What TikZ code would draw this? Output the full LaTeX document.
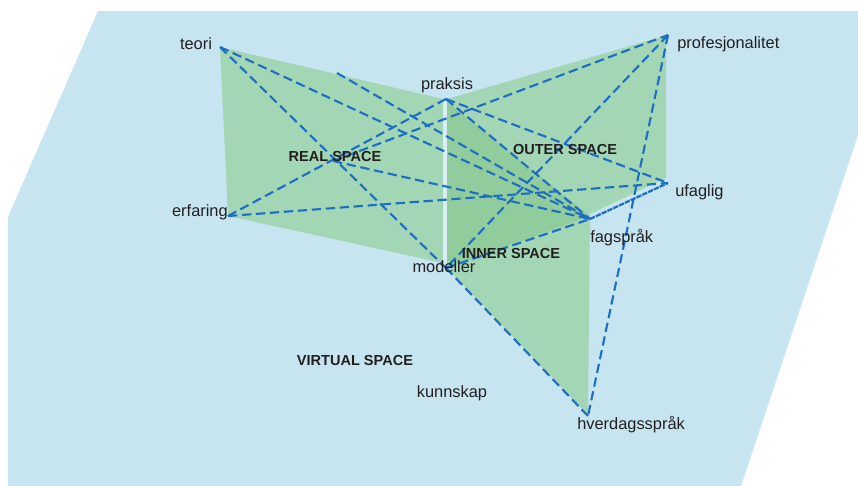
\documentclass[tikz,border=0pt]{standalone}
\usepackage{fontspec}
\setmainfont{Liberation Sans}
\usetikzlibrary{arrows,positioning}

\definecolor{virtualblue}{HTML}{C6E5F1}
\definecolor{planegreen}{HTML}{A3D6B5}
\definecolor{innergreen}{HTML}{91CC9C}
\definecolor{gapblue}{HTML}{D8EDF4}
\definecolor{linkblue}{HTML}{1E6FC3}
\definecolor{labelgrey}{HTML}{231F20}

\begin{document}
\begin{tikzpicture}[x=0.75pt, y=-0.75pt,
  link/.style={linkblue, line width=1.6pt, dash pattern=on 7pt off 3.5pt},
  rough/.style={linkblue, line width=1.7pt, dash pattern=on 4pt off 0.8pt},
  word/.style={text=labelgrey, inner sep=0pt, font=\fontsize{12.3}{14}\selectfont},
  space/.style={text=labelgrey, inner sep=0pt, font=\fontsize{10.9}{13}\selectfont\bfseries}]
\useasboundingbox (0,0) rectangle (858,486);
\fill [virtualblue] (98,11) -- (858,11) -- (858,135) -- (741,486) -- (8,486) -- (8,217) -- cycle;

\coordinate (teori) at (220,47);
\coordinate (praksis) at (446,99);
\coordinate (profesjonalitet) at (668,35);
\coordinate (erfaring) at (228,216);
\coordinate (ufaglig) at (668,183);
\coordinate (fagsprak) at (590,219);
\coordinate (modeller) at (446,268);
\coordinate (hverdagssprak) at (588,416);
\coordinate (realcross) at (333,161);
\coordinate (realedge) at (337,73);

\begin{scope}
  \fill [planegreen] (teori) -- (443,99) -- (443,263) -- (erfaring) -- cycle;
  \fill [planegreen] (447,99) -- (profesjonalitet) -- (666,35) -- (666,178) -- (590,214) -- (447,268) -- cycle;
  \fill [planegreen] (447,102) -- (590,216) -- (588,415) -- (447,268) -- cycle;
  \fill [innergreen] (447,102) -- (590,216) -- (447,268) -- cycle;
  \fill [gapblue] (443,99) rectangle (447,268);
\end{scope}

\draw [link] (teori) -- (modeller);
\draw [link] (teori) -- (fagsprak);
\draw [link] (realedge) -- (fagsprak);
\draw [link] (realcross) -- (fagsprak);
\draw [link] (realcross) -- (profesjonalitet);
\draw [link] (erfaring) -- (praksis);
\draw [link] (erfaring) -- (ufaglig);
\draw [link] (praksis) -- (ufaglig);
\draw [link] (praksis) -- (fagsprak);
\draw [link] (profesjonalitet) -- (modeller);
\draw [link] (profesjonalitet) -- (hverdagssprak);
\draw [link] (modeller) -- (fagsprak);
\draw [link] (modeller) -- (hverdagssprak);
\draw [rough] (fagsprak) -- (ufaglig);

\node [word] (teorilabel) at (196,44) {teori};
\node [word] (praksislabel) at (447,85) {praksis};
\node [word, anchor=west] (profesjonalitetlabel) at (677,44) {profesjonalitet};
\node [word, anchor=east] (erfaringlabel) at (228,212) {erfaring};
\node [word, anchor=west] (ufagliglabel) at (675,192) {ufaglig};
\node [word, anchor=west] (fagspraklabel) at (590,238) {fagspråk};
\node [word] (modellerlabel) at (444,267) {modeller};
\node [word] (kunnskaplabel) at (452,393) {kunnskap};
\node [word, anchor=west] (hverdagsspraklabel) at (577,425) {hverdagsspråk};

\node [space] (realspace) at (335,156) {REAL SPACE};
\node [space] (outerspace) at (565,149) {OUTER SPACE};
\node [space] (innerspace) at (511,253) {INNER SPACE};
\node [space] (virtualspace) at (355,360) {VIRTUAL SPACE};
\end{tikzpicture}
\end{document}
